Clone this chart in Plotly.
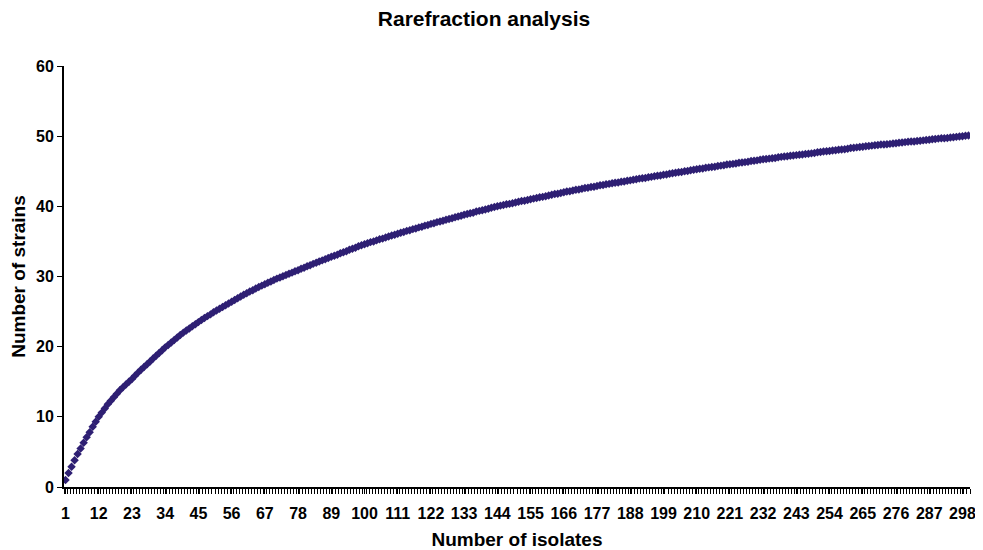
import plotly.graph_objects as go

isolates = list(range(1, 301))

strains = [
    1.0, 2.0, 2.9, 3.8, 4.7, 5.5, 6.3, 7.1, 7.8, 8.6, 9.3,
    10.0, 10.6, 11.2, 11.8, 12.3, 12.8, 13.3, 13.8, 14.2, 14.6, 15.0,
    15.4, 15.85, 16.3, 16.7, 17.1, 17.5, 17.9, 18.3, 18.7, 19.1, 19.5,
    19.9, 20.25, 20.6, 20.95, 21.3, 21.65, 22.0, 22.3, 22.6, 22.9, 23.2,
    23.5, 23.8, 24.1, 24.35, 24.6, 24.9, 25.15, 25.4, 25.65, 25.9, 26.15,
    26.4, 26.65, 26.9, 27.15, 27.4, 27.6, 27.85, 28.05, 28.3, 28.5, 28.7,
    28.9, 29.1, 29.3, 29.5, 29.7, 29.85, 30.05, 30.2, 30.4, 30.55, 30.75,
    30.9, 31.1, 31.25, 31.45, 31.6, 31.8, 31.95, 32.15, 32.3, 32.45, 32.65,
    32.8, 32.95, 33.1, 33.3, 33.45, 33.6, 33.8, 33.95, 34.1, 34.3, 34.45,
    34.6, 34.75, 34.9, 35.0, 35.15, 35.3, 35.4, 35.55, 35.7, 35.85, 35.95,
    36.1, 36.25, 36.35, 36.5, 36.6, 36.75, 36.85, 37.0, 37.1, 37.25, 37.35,
    37.5, 37.6, 37.75, 37.85, 37.95, 38.1, 38.2, 38.3, 38.45, 38.55, 38.65,
    38.8, 38.9, 39.0, 39.1, 39.25, 39.35, 39.45, 39.55, 39.65, 39.8, 39.9,
    40.0, 40.1, 40.2, 40.3, 40.35, 40.45, 40.55, 40.65, 40.75, 40.8, 40.9,
    41.0, 41.1, 41.2, 41.3, 41.35, 41.45, 41.55, 41.65, 41.75, 41.8, 41.9,
    42.0, 42.1, 42.15, 42.25, 42.35, 42.4, 42.5, 42.6, 42.65, 42.75, 42.8,
    42.9, 43.0, 43.05, 43.15, 43.2, 43.3, 43.35, 43.4, 43.5, 43.55, 43.65,
    43.7, 43.8, 43.85, 43.95, 44.0, 44.05, 44.15, 44.2, 44.3, 44.35, 44.4,
    44.5, 44.55, 44.65, 44.7, 44.8, 44.85, 44.9, 45.0, 45.05, 45.15, 45.2,
    45.3, 45.35, 45.4, 45.5, 45.55, 45.6, 45.65, 45.75, 45.8, 45.85, 45.95,
    46.0, 46.05, 46.1, 46.2, 46.25, 46.3, 46.35, 46.45, 46.5, 46.55, 46.65,
    46.7, 46.75, 46.8, 46.85, 46.9, 47.0, 47.05, 47.1, 47.15, 47.2, 47.25,
    47.3, 47.35, 47.4, 47.45, 47.5, 47.55, 47.6, 47.7, 47.75, 47.8, 47.85,
    47.9, 47.95, 48.0, 48.05, 48.1, 48.15, 48.2, 48.3, 48.35, 48.4, 48.45,
    48.5, 48.55, 48.6, 48.65, 48.7, 48.75, 48.8, 48.8, 48.85, 48.9, 48.95,
    49.0, 49.05, 49.1, 49.15, 49.2, 49.25, 49.25, 49.3, 49.35, 49.4, 49.45,
    49.5, 49.55, 49.6, 49.65, 49.7, 49.7, 49.75, 49.8, 49.85, 49.9, 49.95,
    50.0, 50.05, 50.1,
]

x_tick_labels = [str(v) for v in range(1, 300, 11)]
y_ticks = [0, 10, 20, 30, 40, 50, 60]

FONT = "Liberation Sans, Arial, sans-serif"

fig = go.Figure()
fig.add_trace(go.Scatter(
    x=isolates, y=strains, mode="markers",
    marker=dict(symbol="diamond", size=6.5, color="#2E1F73"),
    showlegend=False, hoverinfo="x+y",
))

fig.update_layout(
    width=975, height=542,
    paper_bgcolor="white", plot_bgcolor="white",
    margin=dict(l=56, r=13, t=58, b=63, autoexpand=False),
    font=dict(family=FONT, color="black"),
    title=dict(text="<b>Rarefraction analysis</b>", x=476 / 975, xref="container",
               xanchor="center", y=1 - 11 / 542, yanchor="middle",
               font=dict(size=21, family=FONT, color="black")),
    xaxis=dict(
        range=[0.5, 300.5], tickmode="array",
        tickvals=[int(t) for t in x_tick_labels],
        ticktext=["<b>%s</b>" % t for t in x_tick_labels],
        ticks="outside", ticklen=5, tickwidth=1, tickcolor="black",
        ticklabelstandoff=6,
        minor=dict(tickmode="linear", tick0=0.5, dtick=1, ticks="outside",
                   ticklen=5, tickwidth=1, tickcolor="black", showgrid=False),
        showline=True, linecolor="black", linewidth=2,
        showgrid=False, zeroline=False, automargin=False,
        tickfont=dict(size=16, family=FONT, color="black"),
        title=dict(text="<b>Number of isolates</b>", standoff=12,
                   font=dict(size=19, family=FONT, color="black")),
    ),
    yaxis=dict(
        range=[0, 60], tickmode="array", tickvals=y_ticks,
        ticktext=["<b>%d</b>" % t for t in y_ticks],
        ticks="outside", ticklen=5, tickwidth=1, tickcolor="black",
        showline=True, linecolor="black", linewidth=2,
        showgrid=False, zeroline=False, automargin=False,
        tickfont=dict(size=16, family=FONT, color="black"),
        title=dict(text="<b>Number of strains</b>", standoff=14,
                   font=dict(size=19, family=FONT, color="black")),
    ),
)

fig.write_html("out.html")
